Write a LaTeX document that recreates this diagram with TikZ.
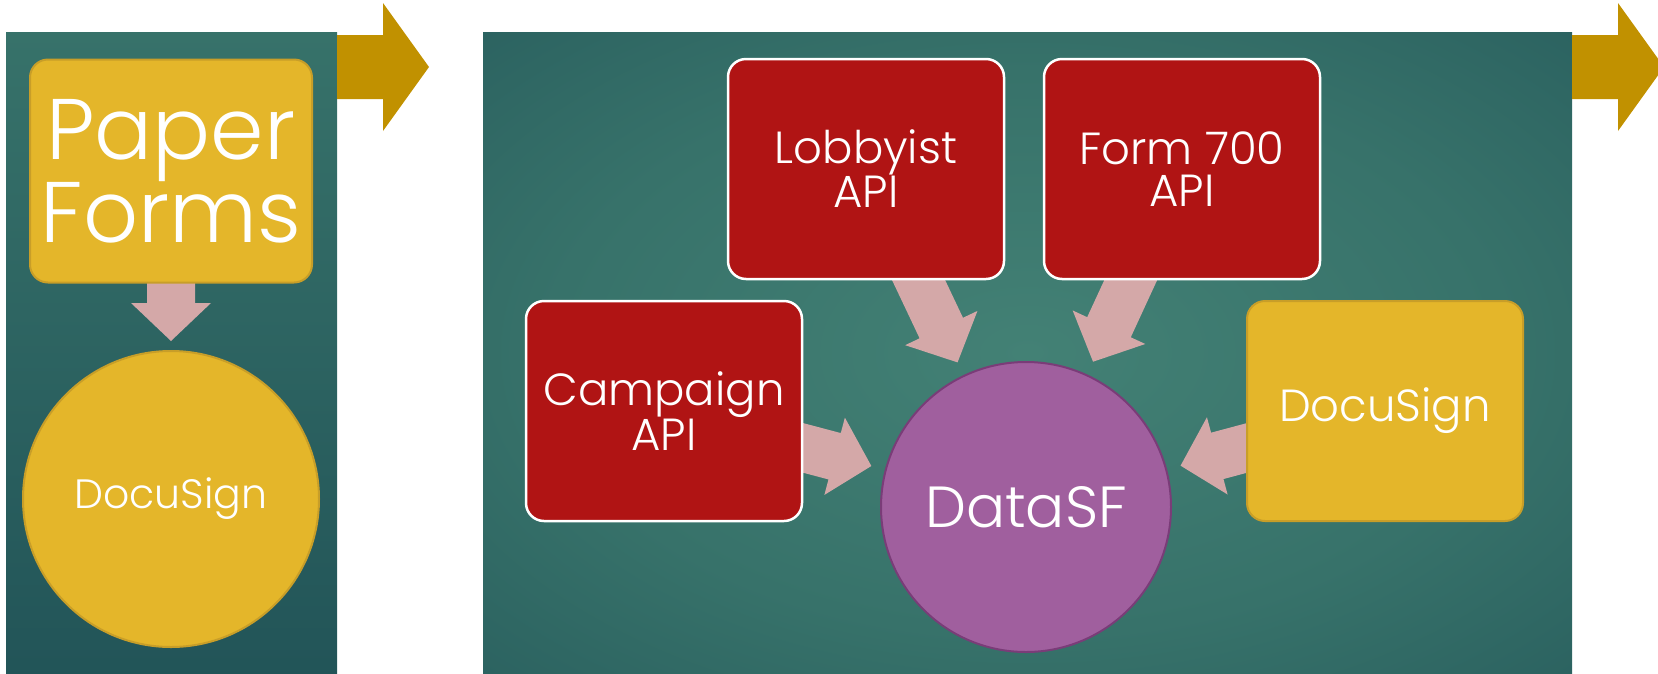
\documentclass[tikz,border=0pt]{standalone}
\usepackage{fontspec}
\IfFontExistsTF{Poppins Light}{\setmainfont{Poppins Light}}{\setmainfont{Poppins}}
\usetikzlibrary{calc,shapes.geometric}
\pgfdeclarelayer{panel}
\pgfdeclarelayer{flow}
\pgfsetlayers{panel,flow,main}
\definecolor{tealL}{RGB}{67,129,117}
\definecolor{tealM}{RGB}{55,114,106}
\definecolor{tealE}{RGB}{36,88,90}
\definecolor{tealD}{RGB}{26,70,80}
\definecolor{gold}{RGB}{228,182,42}
\definecolor{goldline}{RGB}{200,158,40}
\definecolor{bigarrow}{RGB}{193,145,0}
\definecolor{apired}{RGB}{176,20,20}
\definecolor{plum}{RGB}{160,95,158}
\definecolor{plumline}{RGB}{122,60,120}
\definecolor{rose}{RGB}{212,168,168}
\pgfdeclareradialshading{glow}{\pgfpoint{0bp}{0bp}}{color(0bp)=(tealL); color(22bp)=(tealM); color(45bp)=(tealE); color(70bp)=(tealD)}
% block arrow: source node, target node, distance of the tip from the target centre
\newcommand\flowarrow[3]{%
	\coordinate (t) at (#1.center);
	\coordinate (p) at ($(#2.center)!#3!(#1.center)$);
	\coordinate (b) at ($(p)!38pt!(t)$);
	\fill[rose] ($(t)!24pt!90:(p)$) -- ($(b)!24pt!90:(p)$) -- ($(b)!40pt!90:(p)$) -- (p)
		-- ($(b)!40pt!-90:(p)$) -- ($(b)!24pt!-90:(p)$) -- ($(t)!24pt!-90:(p)$) -- cycle;}
\begin{document}
\begin{tikzpicture}[x=1pt,y=-1pt, line join=round,
	apibox/.style={draw=white, line width=2.5pt, fill=apired, rounded corners=18pt, minimum width=276pt, minimum height=220pt, inner sep=0pt, text=white, align=center, font=\fontsize{45}{42}\selectfont},
	goldbox/.style={draw=goldline, line width=2pt, fill=gold, rounded corners=18pt, inner sep=0pt, text=white, align=center},
	blob/.style={circle, inner sep=0pt, line width=2pt, text=white},
	bigarrow/.style={fill=bigarrow}]
	\useasboundingbox (0,0) rectangle (1658,673);
	% panels
	\begin{pgfonlayer}{panel}
	\shade[top color=tealM, middle color=tealL!80!tealM, bottom color=tealE!80!tealD] (6,32) rectangle (337,673);
	\shade[shading=glow] (483,32) rectangle (1572,673);
	\end{pgfonlayer}
	\foreach \dx in {0,1235}
	\fill[bigarrow, shift={(\dx,0)}] (337,35) -- (383,35) -- (383,3) -- (429,67) -- (383,131) -- (383,99) -- (337,99) -- cycle;
	% boxes
	\node[goldbox, minimum width=282pt, minimum height=223pt, font=\fontsize{86}{82}\selectfont] (paper) at (171,171) {Paper\\Forms};
	\node[blob, fill=gold, draw=goldline, minimum size=296pt, font=\fontsize{41}{40}\selectfont] (docl) at (171,499) {DocuSign};
	\node[apibox] (lobby) at (866,169) {Lobbyist\\API};
	\node[apibox] (form) at (1182,169) {Form 700\\API};
	\node[apibox] (camp) at (664,411) {Campaign\\API};
	\node[goldbox, minimum width=276pt, minimum height=220pt, font=\fontsize{45}{42}\selectfont] (docr) at (1385,411) {DocuSign};
	\node[blob, fill=plum, draw=plumline, minimum size=290pt, font=\fontsize{58}{60}\selectfont] (data) at (1026,507) {DataSF};
	% arrows
	\begin{pgfonlayer}{flow}
	\flowarrow{paper}{docl}{158pt}
	\foreach \src in {lobby,form,camp,docr}{
		\flowarrow{\src}{data}{160pt}
	}
	\end{pgfonlayer}
\end{tikzpicture}
\end{document}
